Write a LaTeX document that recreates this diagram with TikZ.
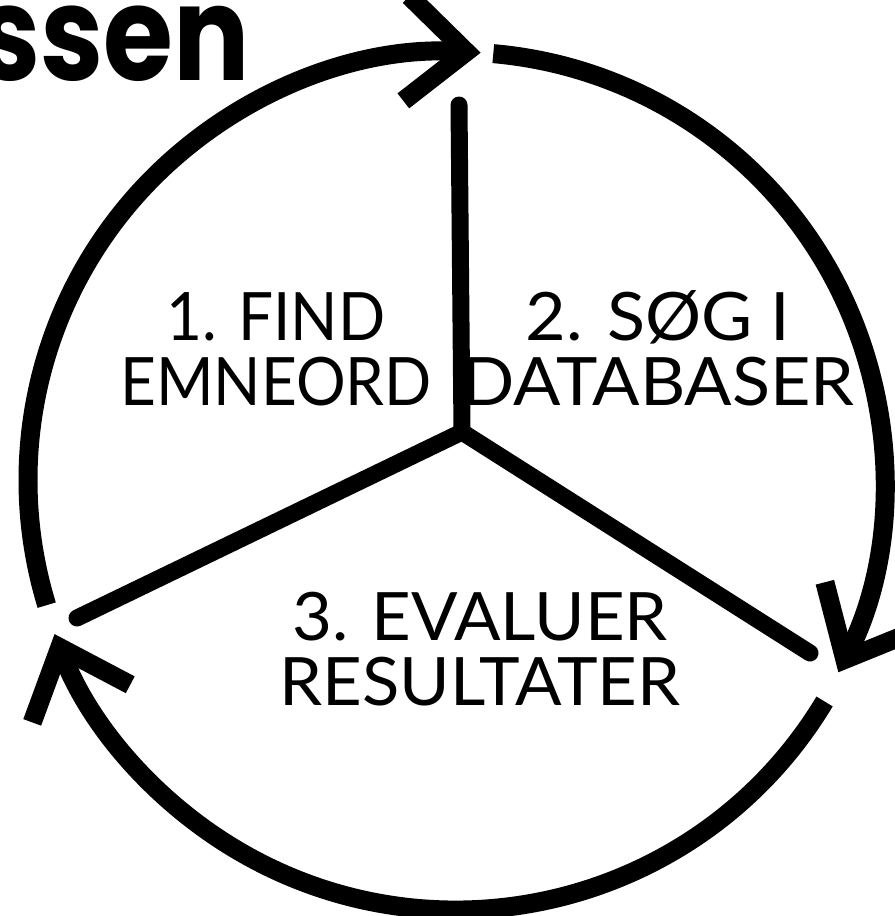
\documentclass[tikz,border=0pt]{standalone}
\usepackage{fontspec}
\setmainfont{Lato}
\newfontfamily\titlefont{Poppins}
\usetikzlibrary{arrows.meta}
\tikzset{
  cyclearc/.style={line width=0.38cm, -{Straight Barb[length=1.2cm,width=2.1cm]}},
  spoke/.style={line width=0.34cm, line cap=round},
  steplabel/.style={align=center, inner sep=0pt, font=\fontsize{38}{37}\selectfont}
}

\begin{document}
\begin{tikzpicture}[x=0.02cm, y=-0.02cm]
    \useasboundingbox (0,0) rectangle (894,916);
    \node[anchor=base east, inner sep=0pt, xscale=0.86, transform shape, font=\titlefont\bfseries\fontsize{75}{75}\selectfont] (title) at (250,80) {ssen};
    % circle centre and hub of the three spokes
    \coordinate (mid) at (456,480);
    \coordinate (hub) at (462,432);
    \coordinate (spokeup) at (459,105);
    \coordinate (spokeright) at (810,653);
    \coordinate (spokeleft) at (77,618);
    \draw[spoke] (hub) -- (spokeup);
    \draw[spoke] (hub) -- (spokeright);
    \draw[spoke] (hub) -- (spokeleft);
    % the three arrows of the cycle
    \draw[cyclearc] (mid) ++(163:428) arc[start angle=163, end angle=273.3, radius=428];
    \draw[cyclearc] (mid) ++(275:428) arc[start angle=275, end angle=386.7, radius=428];
    \draw[cyclearc] (mid) ++(31:430) arc[start angle=31, end angle=159, radius=430];
    \node[steplabel, xscale=0.93, transform shape] (find) at (276,349) {1. FIND\\EMNEORD};
    \node[steplabel, xscale=1.05, transform shape] (search) at (658,348) {2. SØG I\\DATABASER};
    \node[steplabel, xscale=1.03, transform shape] (evaluate) at (480,649) {3. EVALUER\\RESULTATER};
\end{tikzpicture}
\end{document}
